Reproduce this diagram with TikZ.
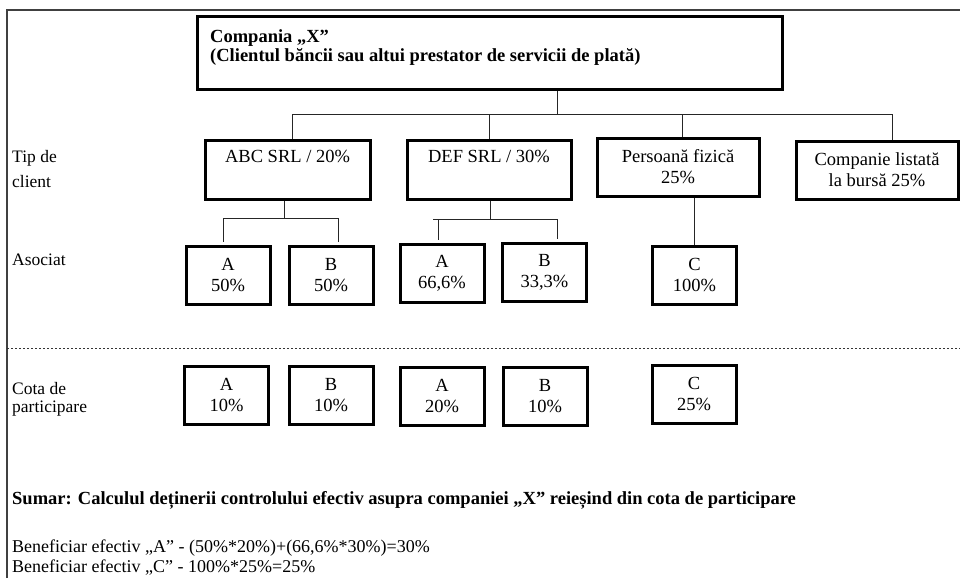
\documentclass[tikz,border=0pt]{standalone}
\usepackage{fontspec}
\setmainfont{Liberation Serif}
\begin{document}
\begin{tikzpicture}[x=1pt,y=-1pt,
  box/.style={draw, line width=3pt, align=center, inner sep=0pt, font=\fontsize{18.5}{21}\selectfont},
  kid/.style={box, minimum width=84pt, minimum height=58pt},
  conn/.style={draw=black!85, line width=0.9pt},
  lbl/.style={anchor=west, align=left, inner sep=0pt, font=\fontsize{17.5}{20}\selectfont},
  ttl/.style={anchor=base west, inner sep=0pt, font=\bfseries\fontsize{18.5}{19}\selectfont}]
\useasboundingbox (0,0) rectangle (960,578);
% frame
\coordinate (fb) at (7,578);
\coordinate (fc) at (7,10);
\coordinate (fr) at (960,10);
\draw[black!75, line width=2pt] (fb) -- (fc) -- (fr);
% main box
\node[box, minimum width=585pt, minimum height=72pt] (X) at (489.5,53) {};
\node[ttl] (Xt1) at (210,43) {Compania „X”};
\node[ttl] (Xt2) at (210,61.5) {(Clientul băncii sau altui prestator de servicii de plată)};
% tier 2
\node[box, minimum width=165pt, minimum height=59pt] (abc) at (287.5,169.5) {ABC SRL / 20\%\\\strut};
\node[box, minimum width=164pt, minimum height=59pt] (def) at (489,169.5) {DEF SRL / 30\%\\\strut};
\node[box, minimum width=162pt, minimum height=58pt] (pf) at (678,167) {Persoană fizică\\25\%};
\node[box, minimum width=162pt, minimum height=58pt] (cl) at (877,170) {Companie listată\\la bursă 25\%};
% tier 3
\node[kid] (a1) at (228,275) {A\\50\%};
\node[kid] (b1) at (331,275) {B\\50\%};
\node[kid] (a2) at (442,273.5) {A\\66,6\%};
\node[kid] (b2) at (544.5,272.5) {B\\33,3\%};
\node[kid] (c1) at (694.5,275) {C\\100\%};
% participation row
\node[kid] (pa1) at (226.5,395) {A\\10\%};
\node[kid] (pb1) at (331,395) {B\\10\%};
\node[kid] (pa2) at (442,396) {A\\20\%};
\node[kid] (pb2) at (545,396) {B\\10\%};
\node[kid] (pc) at (694,394) {C\\25\%};
% connectors level 1
\coordinate (j0) at (557,114);
\coordinate (hL) at (292,114);
\coordinate (hR) at (892,114);
\coordinate (j3) at (682,114);
\draw[conn] (X.south -| j0) -- (j0);
\draw[conn] (hL) -- (hR);
\draw[conn] (hL) -- (abc.north -| hL);
\draw[conn] (def.north |- j0) -- (def.north);
\draw[conn] (j3) -- (pf.north -| j3);
\draw[conn] (hR) -- (cl.north -| hR);
% ABC children
\coordinate (k1) at (284,218);
\coordinate (k1l) at (223,218);
\coordinate (k1r) at (338,218);
\draw[conn] (abc.south -| k1) -- (k1);
\draw[conn] (k1l) -- (k1r);
\draw[conn, shorten >=3pt] (k1l) -- (a1.north -| k1l);
\draw[conn, shorten >=3pt] (k1r) -- (b1.north -| k1r);
% DEF children
\coordinate (k2) at (490,219);
\coordinate (k2l) at (433,219);
\coordinate (k2a) at (438,219);
\coordinate (k2r) at (557,219);
\draw[conn] (def.south -| k2) -- (k2);
\draw[conn] (k2l) -- (k2r);
\draw[conn, shorten >=3pt] (k2a) -- (a2.north -| k2a);
\draw[conn, shorten >=3pt] (k2r) -- (b2.north -| k2r);
% Persoana child
\draw[conn] (c1.north |- pf.south) -- (c1.north);
% dotted separator
\coordinate (dl) at (7,348);
\coordinate (dr) at (960,348);
\draw[black!80, line width=1pt, dash pattern=on 2pt off 2pt] (dl) -- (dr);
% row labels
\node[lbl] (tip) at (12,169.5) {Tip de\\[5pt]client};
\node[lbl] (asoc) at (12,260) {Asociat};
\node[lbl, font=\fontsize{17.5}{18}\selectfont] (cota) at (12,399) {Cota de\\participare};
% summary
\node[lbl, font=\bfseries\fontsize{18.5}{20}\selectfont] (sum) at (12,500)
  {Sumar: Calculul deținerii controlului efectiv asupra companiei „X” reieșind din cota de participare};
\node[lbl, font=\fontsize{18}{20}\selectfont] (benA) at (12,548)
  {Beneficiar efectiv „A” - (50\%*20\%)+(66,6\%*30\%)=30\%};
\node[lbl, font=\fontsize{18}{20}\selectfont] (benC) at (12,568)
  {Beneficiar efectiv „C” - 100\%*25\%=25\%};
\end{tikzpicture}
\end{document}
